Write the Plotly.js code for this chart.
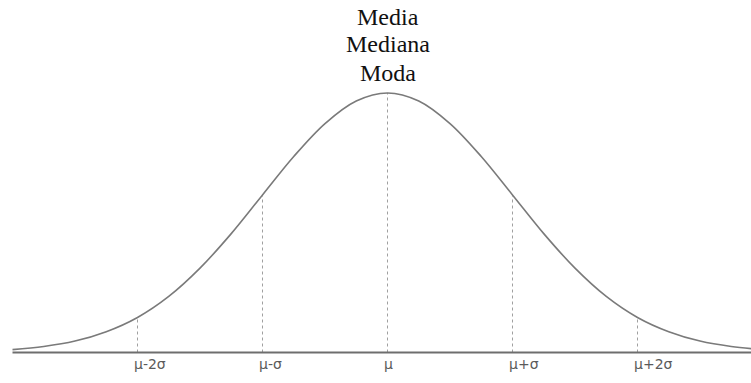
<!DOCTYPE html>
<html>
<head>
<meta charset="utf-8">
<script src="https://cdn.plot.ly/plotly-3.0.1.min.js"></script>
<style>html,body{margin:0;padding:0;background:#fff;}#chart{width:751px;height:383px;}</style>
</head>
<body>
<div id="chart"></div>
<script>
// Curve readings: position in standard deviations from the mean, height relative to the peak
const curveX = [-3.0, -2.75, -2.5, -2.25, -2.0, -1.75, -1.5, -1.25, -1.0, -0.75, -0.5, -0.25, 0,
                0.25, 0.5, 0.75, 1.0, 1.25, 1.5, 1.75, 2.0, 2.25, 2.5, 2.75, 3.0];
const curveY = [0.011, 0.023, 0.044, 0.080, 0.135, 0.216, 0.325, 0.458, 0.607, 0.755, 0.882, 0.969, 1.0,
                0.969, 0.882, 0.755, 0.607, 0.458, 0.325, 0.216, 0.135, 0.080, 0.044, 0.023, 0.011];
// Tick marks
const tickPos = [-2, -1, 0, 1, 2];
const tickLabels = ['μ-2σ', 'μ-σ', 'μ', 'μ+σ', 'μ+2σ'];
const tickHeights = [0.135, 0.607, 1.0, 0.607, 0.135];
const titleLines = ['Media', 'Mediana', 'Moda'];

const xRange = [-3.1, 2.908];
const yRange = [-0.1175, 1.358];

const dashX = [], dashY = [];
tickPos.forEach((t, i) => { dashX.push(t, t, null); dashY.push(0, tickHeights[i], null); });

const traces = [
  {x: dashX, y: dashY, mode: 'lines', type: 'scatter', hoverinfo: 'skip',
   line: {color: '#a0a0a0', width: 1, dash: '3px,3px'}},
  {x: curveX, y: curveY, mode: 'lines', type: 'scatter',
   line: {color: '#7a7a7a', width: 1.6, shape: 'spline', smoothing: 1}}
];

const annotations = tickPos.map((t, i) => ({
  x: t, y: 0, xref: 'x', yref: 'y', text: tickLabels[i], showarrow: false,
  xanchor: 'left', yanchor: 'top', xshift: -6, yshift: -1,
  font: {family: 'DejaVu Sans', size: 14, color: '#5a5a5a'}
}));
const titleY = [0.955, 0.885, 0.81];
titleLines.forEach((s, i) => annotations.push({
  x: 0, y: titleY[i], xref: 'x', yref: 'paper', text: s, showarrow: false,
  xanchor: 'center', yanchor: 'middle',
  font: {family: 'Liberation Serif', size: 24, color: '#111'}
}));

const layout = {
  width: 751, height: 383,
  margin: {l: 0, r: 0, t: 0, b: 0, pad: 0},
  paper_bgcolor: '#fff', plot_bgcolor: '#fff',
  showlegend: false,
  xaxis: {range: xRange, showgrid: false, zeroline: false, showticklabels: false, showline: false, fixedrange: true},
  yaxis: {range: yRange, showgrid: false, zeroline: false, showticklabels: false, showline: false, fixedrange: true},
  shapes: [{type: 'line', xref: 'x', yref: 'y', x0: curveX[0], x1: xRange[1], y0: 0, y1: 0,
            line: {color: '#6e6e6e', width: 2}}],
  annotations: annotations
};

Plotly.newPlot('chart', traces, layout, {displayModeBar: false, staticPlot: true});
</script>
</body>
</html>
